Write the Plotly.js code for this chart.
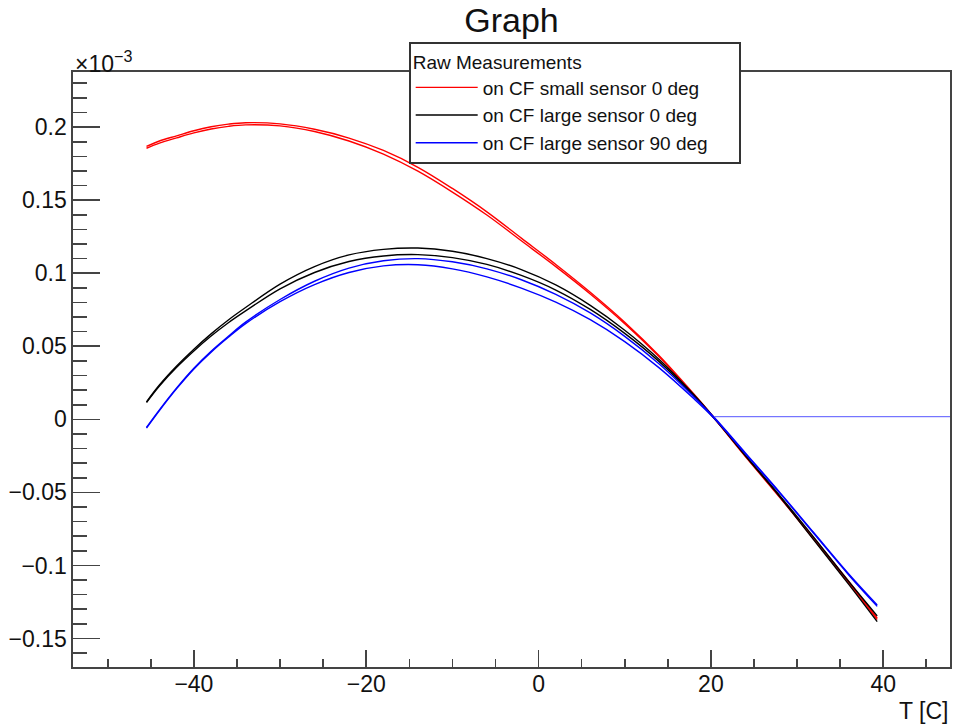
<!DOCTYPE html>
<html>
<head>
<meta charset="utf-8">
<script src="https://cdn.plot.ly/plotly-3.0.1.min.js"></script>
<style>html,body{margin:0;padding:0;background:#fff;}#chart{width:955px;height:724px;}</style>
</head>
<body>
<div id="chart"></div>
<script>
// Temperatures (T [C]) at which the curves were read
const temps = [-45.5, -44, -42, -40, -38, -36, -34, -30, -26, -22, -18, -14, -10, -6, -2, 2, 6, 10, 14, 18, 20.4, 24, 28, 32, 36, 39.3];

// Values in units of 1e-3
const smallSensor0RunA = [0.1868, 0.1905, 0.1940, 0.1975, 0.2002, 0.2020, 0.2030, 0.2022, 0.1985, 0.1925, 0.1840, 0.1725, 0.1580, 0.1420, 0.1240, 0.1060, 0.0870, 0.0665, 0.0435, 0.0175, 0.0010, -0.0250, -0.0530, -0.0820, -0.1110, -0.1360];
const smallSensor0RunB = [0.1855, 0.1890, 0.1926, 0.1960, 0.1987, 0.2005, 0.2015, 0.2008, 0.1970, 0.1905, 0.1815, 0.1698, 0.1555, 0.1398, 0.1222, 0.1045, 0.0858, 0.0655, 0.0428, 0.0168, 0.0005, -0.0255, -0.0535, -0.0825, -0.1120, -0.1370];

const largeSensor0RunA = [0.0120, 0.0235, 0.0365, 0.0480, 0.0585, 0.0680, 0.0765, 0.0925, 0.1045, 0.1125, 0.1163, 0.1172, 0.1150, 0.1100, 0.1025, 0.0920, 0.0780, 0.0610, 0.0410, 0.0170, 0.0010, -0.0250, -0.0530, -0.0830, -0.1130, -0.1385];
const largeSensor0RunB = [0.0115, 0.0228, 0.0356, 0.0468, 0.0570, 0.0661, 0.0742, 0.0893, 0.1005, 0.1080, 0.1118, 0.1127, 0.1107, 0.1060, 0.0985, 0.0885, 0.0752, 0.0588, 0.0395, 0.0162, 0.0005, -0.0245, -0.0522, -0.0812, -0.1110, -0.1345];

const largeSensor90RunA = [-0.0060, 0.0060, 0.0210, 0.0345, 0.0460, 0.0562, 0.0655, 0.0805, 0.0922, 0.1005, 0.1050, 0.1058, 0.1030, 0.0975, 0.0898, 0.0802, 0.0682, 0.0532, 0.0352, 0.0142, 0.0005, -0.0235, -0.0505, -0.0785, -0.1065, -0.1280];
const largeSensor90RunB = [-0.0055, 0.0065, 0.0215, 0.0350, 0.0466, 0.0568, 0.0665, 0.0820, 0.0945, 0.1035, 0.1085, 0.1100, 0.1078, 0.1030, 0.0955, 0.0855, 0.0728, 0.0568, 0.0378, 0.0155, 0.0012, -0.0230, -0.0500, -0.0780, -0.1058, -0.1270];

// Flat tail of the 90 deg graph (continues past the visible range)
const flatTailT = [20.4, 60];
const flatTailV = [0.0018, 0.0018];

const seriesNames = ['on CF small sensor 0 deg', 'on CF large sensor 0 deg', 'on CF large sensor 90 deg'];
const seriesColors = ['#ff0000', '#000000', '#0000ff'];

const FONT = 'Liberation Sans, Arial, Helvetica, sans-serif';
const PAD = '\u00a0\u00a0\u00a0\u00a0\u00a0';

function run(y, idx, show) {
  return {
    x: temps, y: y, type: 'scatter', mode: 'lines',
    name: seriesNames[idx] + PAD, showlegend: show, legendgroup: 'g' + idx,
    line: {color: seriesColors[idx], width: 1.4, shape: 'spline', smoothing: 1},
    hoverinfo: 'x+y'
  };
}

const traces = [
  run(smallSensor0RunA, 0, true),
  run(smallSensor0RunB, 0, false),
  run(largeSensor0RunA, 1, true),
  run(largeSensor0RunB, 1, false),
  run(largeSensor90RunA, 2, true),
  run(largeSensor90RunB, 2, false),
  {x: flatTailT, y: flatTailV, type: 'scatter', mode: 'lines', showlegend: false,
   legendgroup: 'g2', line: {color: '#5555ff', width: 1}}
];

const axisCommon = {
  showgrid: false, zeroline: false, showline: true, mirror: true,
  linecolor: '#444', linewidth: 1.6, ticks: 'inside', tickcolor: '#444', tickwidth: 1.6,
  tickfont: {family: FONT, size: 23, color: '#111'}
};

const layout = {
  width: 955, height: 724,
  margin: {l: 73, r: 5, t: 72, b: 57},
  paper_bgcolor: '#fff', plot_bgcolor: '#fff',
  font: {family: FONT, color: '#111'},
  title: {text: 'Graph', font: {family: FONT, size: 34, color: '#111'},
          xref: 'paper', x: 0.5, xanchor: 'center', yref: 'container', y: 0.972, yanchor: 'middle'},
  xaxis: Object.assign({}, axisCommon, {
    range: [-54.03, 47.75], tick0: 0, dtick: 20, ticklen: 17, ticklabelstandoff: -4,
    minor: {dtick: 5, ticks: 'inside', ticklen: 8, tickcolor: '#444', tickwidth: 1.6, showgrid: false}
  }),
  yaxis: Object.assign({}, axisCommon, {
    range: [-0.1695, 0.2377], tick0: 0, dtick: 0.05, ticklen: 27,
    minor: {dtick: 0.01, ticks: 'inside', ticklen: 14, tickcolor: '#444', tickwidth: 1.6, showgrid: false}
  }),
  legend: {
    x: 0.383, y: 1.0504, xanchor: 'left', yanchor: 'top',
    bgcolor: '#fff', bordercolor: '#333', borderwidth: 1.8,
    font: {family: FONT, size: 19, color: '#111'},
    title: {text: 'Raw Measurements', font: {family: FONT, size: 19, color: '#111'}},
    itemwidth: 62, traceorder: 'normal'
  },
  annotations: [
    {text: '×10<sup>−3</sup>', xref: 'paper', yref: 'paper', x: 0, y: 1.0168,
     xanchor: 'left', yanchor: 'middle', showarrow: false, font: {family: FONT, size: 23, color: '#111'}},
    {text: 'T [C]', xref: 'paper', yref: 'paper', x: 1, y: -0.0745,
     xanchor: 'right', yanchor: 'middle', showarrow: false, font: {family: FONT, size: 23, color: '#111'}}
  ],
  showlegend: true
};

Plotly.newPlot('chart', traces, layout, {displayModeBar: false, staticPlot: true});
</script>
</body>
</html>
